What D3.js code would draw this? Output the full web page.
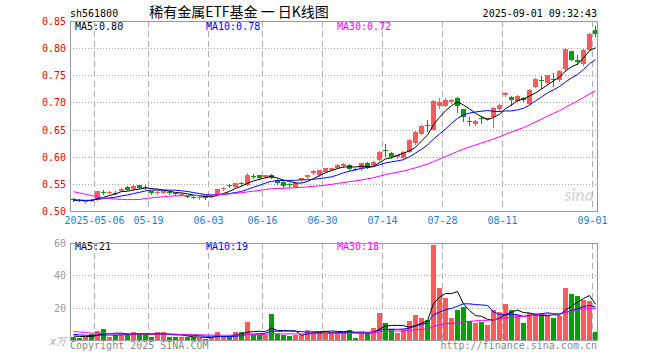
<!DOCTYPE html>
<html>
<head>
<meta charset="utf-8">
<script src="https://cdn.jsdelivr.net/npm/d3@7"></script>
<style>
  body { margin: 0; background: #fff; }
  svg text { font-family: "DejaVu Sans Mono", monospace; font-size: 10px; }
</style>
</head>
<body>
<svg id="chart" width="660" height="360"></svg>
<script>
// daily bars, 2025
const dates = ["04-25","04-28","04-29","04-30","05-06","05-07","05-08","05-09","05-12","05-13",
  "05-14","05-15","05-16","05-19","05-20","05-21","05-22","05-23","05-26","05-27",
  "05-28","05-29","05-30","06-03","06-04","06-05","06-06","06-09","06-10","06-11",
  "06-12","06-13","06-16","06-17","06-18","06-19","06-20","06-23","06-24","06-25",
  "06-26","06-27","06-30","07-01","07-02","07-03","07-04","07-07","07-08","07-09",
  "07-10","07-11","07-14","07-15","07-16","07-17","07-18","07-21","07-22","07-23",
  "07-24","07-25","07-28","07-29","07-30","07-31","08-01","08-04","08-05","08-06",
  "08-07","08-08","08-11","08-12","08-13","08-14","08-15","08-18","08-19","08-20",
  "08-21","08-22","08-25","08-26","08-27","08-28","08-29","09-01"];

const open = [.523,.521,.516,.521,.522,.535,.533,.534,.537,.545,
  .540,.547,.545,.536,.533,.534,.535,.533,.530,.528,
  .526,.524,.526,.526,.532,.540,.548,.545,.551,.548,
  .565,.566,.563,.567,.558,.554,.549,.545,.557,.563,
  .570,.566,.572,.576,.580,.582,.585,.578,.577,.589,
  .585,.594,.613,.607,.600,.598,.609,.626,.642,.659,
  .650,.693,.694,.700,.708,.687,.666,.660,.672,.668,
  .673,.687,.714,.710,.702,.709,.698,.729,.741,.735,
  .743,.741,.762,.794,.778,.770,.797,.834];
const high = [.524,.522,.519,.522,.537,.538,.536,.536,.543,.546,
  .547,.548,.547,.537,.536,.537,.536,.534,.533,.529,
  .527,.527,.527,.529,.541,.544,.550,.552,.553,.570,
  .568,.567,.567,.568,.559,.555,.551,.553,.561,.567,
  .575,.576,.580,.580,.586,.588,.586,.580,.589,.590,
  .592,.611,.624,.608,.604,.610,.632,.647,.659,.668,
  .705,.708,.709,.706,.710,.688,.673,.667,.675,.672,
  .691,.697,.719,.711,.713,.710,.724,.745,.749,.751,
  .754,.759,.800,.795,.788,.798,.827,.841];
const low = [.519,.518,.514,.518,.521,.532,.531,.531,.536,.538,
  .539,.542,.541,.532,.532,.533,.532,.530,.529,.525,
  .524,.523,.523,.525,.531,.539,.544,.544,.548,.547,
  .561,.559,.561,.560,.550,.545,.545,.544,.556,.561,
  .568,.565,.571,.575,.579,.581,.576,.575,.576,.579,
  .584,.593,.601,.598,.598,.597,.608,.624,.641,.648,
  .649,.690,.693,.699,.682,.665,.659,.659,.663,.667,
  .655,.686,.712,.695,.701,.702,.697,.728,.727,.734,
  .731,.740,.758,.778,.770,.769,.796,.823];
const close = [.521,.520,.518,.519,.536,.534,.535,.533,.541,.539,
  .546,.543,.544,.534,.535,.536,.533,.532,.531,.526,
  .525,.526,.525,.528,.540,.542,.546,.551,.550,.566,
  .564,.561,.566,.561,.551,.546,.548,.552,.560,.566,
  .573,.575,.579,.579,.585,.587,.577,.577,.588,.580,
  .591,.609,.612,.599,.603,.609,.631,.645,.657,.658,
  .703,.700,.705,.704,.694,.673,.665,.665,.671,.671,
  .689,.695,.717,.704,.712,.704,.723,.744,.740,.750,
  .742,.758,.799,.779,.775,.797,.826,.826];
// volume, 万
const volume = [1.9,1.4,2.0,3.5,5.6,6.8,1.9,3.0,4.0,3.5,
  5.0,3.5,3.5,1.9,5.0,5.0,1.9,2.0,1.9,1.9,
  1.9,1.4,0.8,1.9,5.0,1.9,1.9,5.0,4.7,11.0,
  3.3,3.3,3.3,16.0,3.5,3.0,2.7,3.0,3.0,6.4,
  5.8,5.0,5.8,5.0,5.0,4.7,6.2,1.4,4.5,4.1,
  7.2,16.9,10.3,6.6,4.1,6.6,11.8,15.3,13.8,12.4,
  58.8,32.4,26.2,13.8,18.6,20.6,11.8,10.7,11.3,9.3,
  18.6,17.5,22.3,18.6,15.5,10.7,16.5,16.5,16.9,14.8,
  13.8,14.8,32.4,28.7,27.4,25.0,24.0,5.2];

// sessions before the window, guessed from where the MA lines start
const earlierClose = [.585,.590,.595,.600,.590,.575,.565,.560,.550,.545,
  .540,.490,.495,.500,.505,.510,.515,.520,.518,.520,
  .522,.520,.515,.518,.520,.522,.520,.519,.520];
const earlierVolume = [10,12,11,10,11,6,7,5,4,5,
  4,4,3,4,5,4,4,4,3,5,
  5,4,5,4,4.5,3,2.5,2.6,2.5];

const tickDates = ["05-06","05-19","06-03","06-16","06-30","07-14","07-28","08-11","09-01"];
const priceTicks = [0.50,0.55,0.60,0.65,0.70,0.75,0.80,0.85];
const volumeTicks = [20,40,60];
const maPeriods = [5,10,30];
const maColors = ["#000","#00f","#f0f"];
const priceMaText = ["0.80","0.78","0.72"];
const volumeMaText = ["21","19","18"];

const UP = "#ff5a5a", DOWN = "#00a000";
const svg = d3.select("#chart");

const x = d3.scaleBand().domain(dates).range([70, 598]);
const yP = d3.scaleLinear().domain([0.50, 0.85]).range([211, 21]);
const yV = d3.scaleLinear().domain([0, 60]).range([340, 243]);
const cx = d => x(d) + 3.5;

function movingAvg(prev, vals, n) {
  let all = prev.concat(vals);
  return vals.map((v, i) => d3.mean(all.slice(i + prev.length - n + 1, i + prev.length + 1)));
}

let bars = dates.map((d, i) => ({
  date: d, o: open[i], h: high[i], l: low[i], c: close[i], v: volume[i],
  up: close[i] >= open[i]
}));

// header
svg.append("text").attr("x", 70).attr("y", 17).text("sh561800");
svg.append("text").attr("x", 239).attr("y", 17).attr("text-anchor", "middle")
  .style("font-family", "'Noto Sans CJK SC', sans-serif").style("font-size", "14px")
  .text("稀有金属ETF基金 一 日K线图");
svg.append("text").attr("x", 597).attr("y", 17).attr("text-anchor", "end").text("2025-09-01 09:32:43");

// watermark
svg.append("text").attr("x", 579).attr("y", 201).attr("text-anchor", "middle")
  .style("font-family", "Lato, sans-serif").style("font-size", "17px")
  .style("font-style", "italic").style("font-weight", "bold")
  .attr("fill", "#dadada").text("sina");

// grids
let grid = svg.append("g");
grid.selectAll("line.hp").data(priceTicks.slice(1, -1)).enter().append("line")
  .attr("x1", 70).attr("x2", 597)
  .attr("y1", d => Math.round(yP(d)) + 0.5).attr("y2", d => Math.round(yP(d)) + 0.5)
  .attr("stroke", "#aaa").attr("stroke-dasharray", "1,2");
grid.selectAll("line.hv").data(volumeTicks.slice(0, -1)).enter().append("line")
  .attr("x1", 70).attr("x2", 597)
  .attr("y1", d => Math.round(yV(d)) + 0.5).attr("y2", d => Math.round(yV(d)) + 0.5)
  .attr("stroke", "#aaa").attr("stroke-dasharray", "1,2");
tickDates.forEach(d => {
  [[21, 211], [243, 340]].forEach(r => {
    grid.append("line").attr("x1", x(d) + 0.5).attr("x2", x(d) + 0.5)
      .attr("y1", r[0]).attr("y2", r[1])
      .attr("stroke", "#b0b0b0").attr("stroke-dasharray", "6,4");
  });
});

// axis labels
svg.selectAll("text.py").data(priceTicks).enter().append("text")
  .attr("x", 66).attr("y", d => yP(d) + 4).attr("text-anchor", "end")
  .attr("fill", "#f00").text(d => d.toFixed(2));
svg.selectAll("text.vy").data(volumeTicks).enter().append("text")
  .attr("x", 66).attr("y", d => yV(d) + 4).attr("text-anchor", "end")
  .attr("fill", "#999").text(d => d);
svg.append("text").attr("x", 66).attr("y", 345).attr("text-anchor", "end")
  .attr("fill", "#aaa").style("font-style", "italic").text("x万");
svg.selectAll("text.dt").data(tickDates).enter().append("text")
  .attr("x", d => x(d) + 0.5).attr("y", 224).attr("text-anchor", "middle")
  .attr("fill", "#1a7fd4").text((d, i) => i === 0 ? "2025-" + d : d);

// candles
let candle = svg.append("g").selectAll("g").data(bars).enter().append("g")
  .attr("shape-rendering", "crispEdges");
candle.append("line")
  .attr("x1", d => cx(d.date)).attr("x2", d => cx(d.date))
  .attr("y1", d => Math.round(yP(d.h))).attr("y2", d => Math.round(yP(d.l)) + 1)
  .attr("stroke", d => d.up ? UP : DOWN);
candle.append("rect")
  .attr("x", d => x(d.date) + 1).attr("width", 5)
  .attr("y", d => Math.round(yP(Math.max(d.o, d.c))))
  .attr("height", d => Math.max(1, Math.round(yP(Math.min(d.o, d.c))) - Math.round(yP(Math.max(d.o, d.c)))))
  .attr("fill", d => d.up ? UP : DOWN);

// volume bars
svg.append("g").selectAll("rect").data(bars).enter().append("rect")
  .attr("shape-rendering", "crispEdges")
  .attr("x", d => x(d.date) + 1).attr("width", 5)
  .attr("y", d => Math.round(yV(d.v)))
  .attr("height", d => 340 - Math.round(yV(d.v)))
  .attr("fill", d => d.up ? UP : DOWN);

// moving averages
maPeriods.forEach((n, k) => {
  let mp = movingAvg(earlierClose, close, n);
  let mv = movingAvg(earlierVolume, volume, n);
  svg.append("path").datum(mp)
    .attr("d", d3.line().x((v, i) => cx(dates[i])).y(v => yP(v)))
    .attr("fill", "none").attr("stroke", maColors[k]).attr("stroke-width", 1);
  svg.append("path").datum(mv)
    .attr("d", d3.line().x((v, i) => cx(dates[i])).y(v => yV(v)))
    .attr("fill", "none").attr("stroke", maColors[k]).attr("stroke-width", 1);
});

// legends
const legendX = [75, 206, 337];
maPeriods.forEach((n, k) => {
  svg.append("text").attr("x", legendX[k]).attr("y", 30).attr("fill", maColors[k])
    .text("MA" + n + ":" + priceMaText[k]);
  svg.append("text").attr("x", legendX[k]).attr("y", 250).attr("fill", maColors[k])
    .text("MA" + n + ":" + volumeMaText[k]);
});

// frames
svg.append("rect").attr("x", 70.5).attr("y", 21.5).attr("width", 527).attr("height", 190)
  .attr("fill", "none").attr("stroke", "#999");
svg.append("rect").attr("x", 70.5).attr("y", 243.5).attr("width", 527).attr("height", 97)
  .attr("fill", "none").attr("stroke", "#999");

// footer
svg.append("text").attr("x", 70).attr("y", 349).attr("fill", "#888").text("Copyright 2025 SINA.COM");
svg.append("text").attr("x", 597).attr("y", 349).attr("text-anchor", "end").attr("fill", "#888")
  .text("http://finance.sina.com.cn");
</script>
</body>
</html>
